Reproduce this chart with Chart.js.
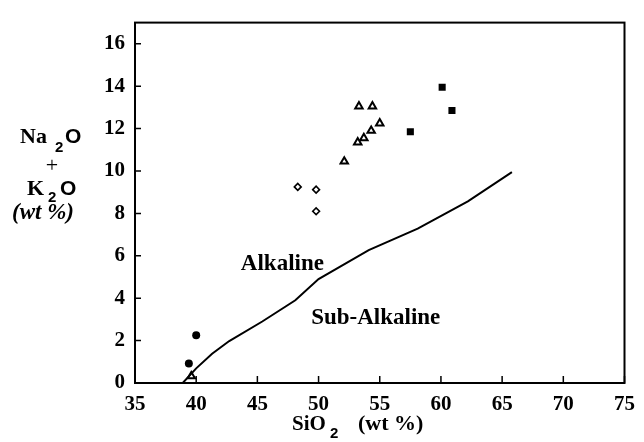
<!DOCTYPE html>
<html><head><meta charset="utf-8">
<script src="https://cdn.jsdelivr.net/npm/chart.js@4/dist/chart.umd.min.js"></script>
<style>html,body{margin:0;padding:0;background:#fff}#wrap{width:644px;height:442px}</style>
</head><body><div id="wrap"><canvas id="c" width="644" height="442"></canvas></div>
<script>
// x: SiO2 (wt %), y: Na2O + K2O (wt %)
const xTickValues = [35, 40, 45, 50, 55, 60, 65, 70, 75];
const yTickValues = [0, 2, 4, 6, 8, 10, 12, 14, 16];

const circleX = [39.4, 40.0];
const circleY = [0.92, 2.25];

const diamondX = [48.3, 49.8, 49.8];
const diamondY = [9.25, 9.12, 8.1];

const triangleX = [53.3, 54.4, 55.0, 54.3, 53.7, 53.2, 52.1, 39.6];
const triangleY = [13.05, 13.05, 12.25, 11.9, 11.55, 11.35, 10.45, 0.32];

const squareX = [60.1, 60.9, 57.5];
const squareY = [13.95, 12.85, 11.85];

const boundaryX = [38.9, 40.0, 41.3, 42.7, 45.4, 48.1, 50.0, 54.1, 58.1, 62.2, 65.8];
const boundaryY = [0, 0.69, 1.38, 1.98, 2.90, 3.9, 4.9, 6.27, 7.28, 8.57, 9.95];

const regionLabels = ['Alkaline', 'Sub-Alkaline'];
const regionLabelX = [43.65, 49.4];
const regionLabelY = [5.35, 2.8];

const pts = (xs, ys) => xs.map((x, i) => ({x: x, y: ys[i]}));

const SERIF = "'Liberation Serif', serif";
const SANS = "'Liberation Sans', sans-serif";

const decor = {
  id: 'decor',
  afterDraw(chart) {
    const ctx = chart.ctx, a = chart.chartArea;
    const xs = chart.scales.x, ys = chart.scales.y;
    ctx.save();
    ctx.strokeStyle = '#000';
    ctx.lineWidth = 2;
    ctx.strokeRect(a.left, a.top, a.right - a.left, a.bottom - a.top);
    ctx.lineWidth = 1.5;
    ctx.beginPath();
    yTickValues.forEach(v => {
      const p = ys.getPixelForValue(v);
      ctx.moveTo(a.left, p); ctx.lineTo(a.left + 6, p);
    });
    xTickValues.forEach(v => {
      const p = xs.getPixelForValue(v);
      ctx.moveTo(p, a.bottom); ctx.lineTo(p, a.bottom - 7);
    });
    ctx.stroke();

    ctx.fillStyle = '#000';
    ctx.textBaseline = 'alphabetic';
    ctx.textAlign = 'left';
    ctx.font = 'bold 23px ' + SERIF;
    regionLabels.forEach((t, i) => {
      ctx.fillText(t, xs.getPixelForValue(regionLabelX[i]), ys.getPixelForValue(regionLabelY[i]));
    });

    // y-axis title
    ctx.font = 'bold 22px ' + SERIF;
    ctx.fillText('Na', 20, 143);
    ctx.font = 'bold 15px ' + SANS;
    ctx.fillText('2', 55, 152);
    ctx.font = 'bold 21px ' + SANS;
    ctx.fillText('O', 65, 143);
    ctx.font = '22px ' + SERIF;
    ctx.textAlign = 'center';
    ctx.fillText('+', 52, 172);
    ctx.textAlign = 'left';
    ctx.font = 'bold 22px ' + SERIF;
    ctx.fillText('K', 27, 195);
    ctx.font = 'bold 15px ' + SANS;
    ctx.fillText('2', 48, 202);
    ctx.font = 'bold 21px ' + SANS;
    ctx.fillText('O', 60, 195);
    ctx.font = 'italic bold 23px ' + SERIF;
    ctx.fillText('(wt %)', 12, 219);

    // x-axis title
    ctx.font = 'bold 21px ' + SERIF;
    ctx.fillText('SiO', 292, 430);
    ctx.font = 'bold 15px ' + SANS;
    ctx.fillText('2', 330, 438);
    ctx.font = 'bold 22px ' + SERIF;
    ctx.fillText('(wt %)', 358, 430);
    ctx.restore();
  }
};

new Chart(document.getElementById('c'), {
  type: 'scatter',
  data: {
    datasets: [
      { label: 'boundary', data: pts(boundaryX, boundaryY), showLine: true, borderColor: '#000', borderWidth: 2, pointRadius: 0, tension: 0, fill: false },
      { label: 'circles', data: pts(circleX, circleY), pointStyle: 'circle', pointRadius: 4, backgroundColor: '#000', borderColor: '#000', borderWidth: 0 },
      { label: 'diamonds', data: pts(diamondX, diamondY), pointStyle: 'rectRot', pointRadius: 3.4, backgroundColor: '#fff', borderColor: '#000', borderWidth: 1.6 },
      { label: 'triangles', data: pts(triangleX, triangleY), pointStyle: 'triangle', pointRadius: 4.3, backgroundColor: '#fff', borderColor: '#000', borderWidth: 2 },
      { label: 'squares', data: pts(squareX, squareY), pointStyle: 'rect', pointRadius: 5, backgroundColor: '#000', borderColor: '#000', borderWidth: 0 }
    ]
  },
  options: {
    responsive: false,
    animation: false,
    layout: { padding: { top: 11, right: 16, left: 0, bottom: 0 } },
    plugins: { legend: { display: false }, tooltip: { enabled: false } },
    scales: {
      x: {
        type: 'linear', min: 35, max: 75,
        afterBuildTicks: s => { s.ticks = xTickValues.map(v => ({value: v})); },
        afterFit: s => { s.height = 59; },
        grid: { display: false, drawTicks: false },
        border: { display: false },
        ticks: { color: '#000', padding: 9, font: { family: SERIF, weight: 'bold', size: 21 } }
      },
      y: {
        type: 'linear', min: 0, max: 17,
        afterBuildTicks: s => { s.ticks = yTickValues.map(v => ({value: v})); },
        afterFit: s => { s.width = 135; },
        grid: { display: false, drawTicks: false },
        border: { display: false },
        ticks: { color: '#000', padding: 10, font: { family: SERIF, weight: 'bold', size: 21 } }
      }
    }
  },
  plugins: [decor]
});
</script>
</body></html>
